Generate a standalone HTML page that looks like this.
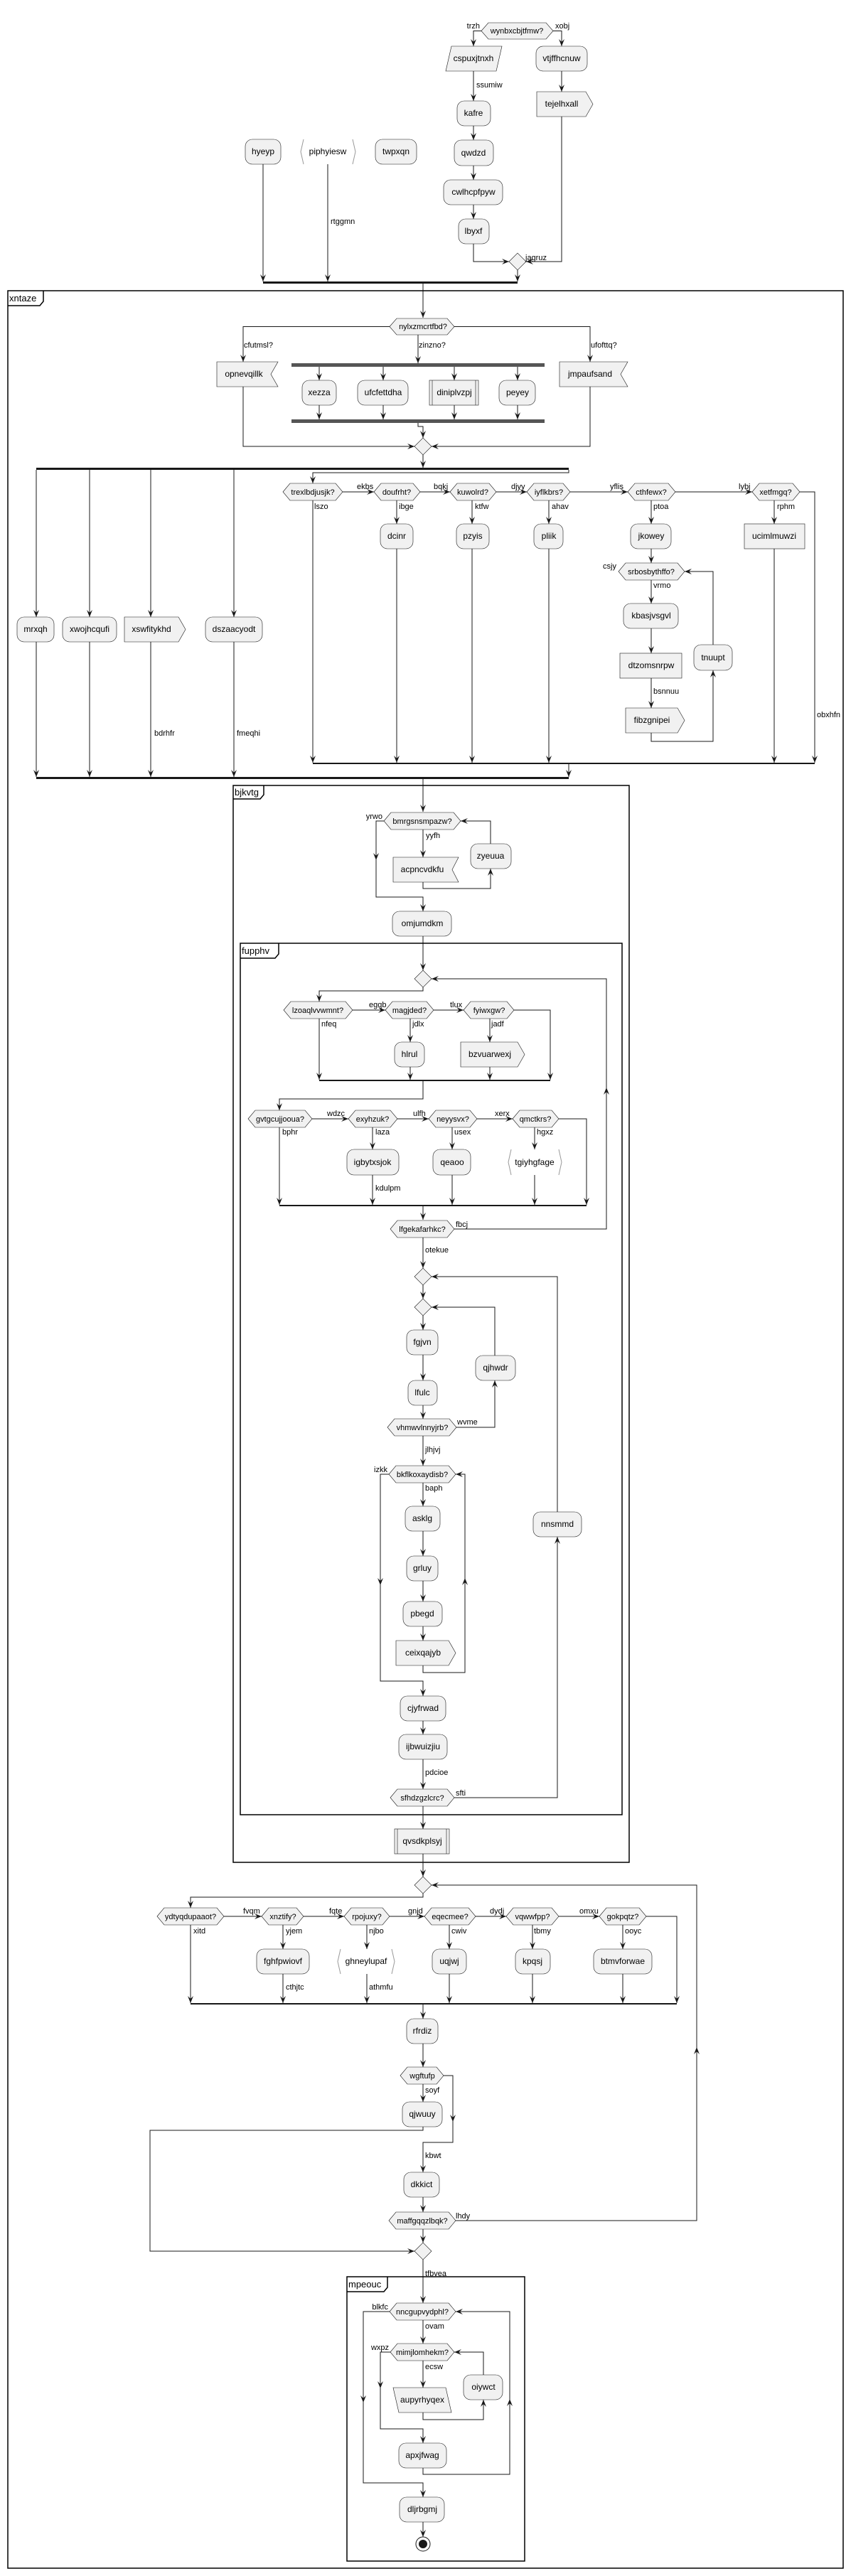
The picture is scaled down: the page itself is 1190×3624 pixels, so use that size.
<!DOCTYPE html>
<html><head><meta charset="utf-8"><style>
html,body{margin:0;padding:0;background:#fff}
svg{display:block}
.n{fill:#F1F1F1;stroke:#181818;stroke-width:0.6}
.w{fill:#fff;stroke:#181818;stroke-width:0.6}
.e{fill:none;stroke:#181818;stroke-width:1}
.a{fill:none;stroke:#181818;stroke-width:1;marker-end:url(#ar)}
.f{fill:none;stroke:#000;stroke-width:1.5}
.b{fill:#555;stroke:none}
.k{fill:#181818}
text{font-family:"Liberation Sans",sans-serif;fill:#000}
.t{font-size:12px;text-anchor:middle}
.h{font-size:11px;text-anchor:middle}
.l{font-size:11px}
.r{font-size:11px;text-anchor:end}
.g{font-size:13px}
</style></head><body>
<svg width="1190" height="3624" viewBox="0 0 1190 3624" xmlns="http://www.w3.org/2000/svg">
<defs><marker id="ar" markerWidth="10" markerHeight="10" refX="10" refY="4" orient="auto" markerUnits="userSpaceOnUse"><path d="M0,0 L10,4 L0,8 L4,4 Z" fill="#181818"/></marker></defs>

<!-- top section -->
<polygon class="n" points="677,43.5 687,32 768,32 778,43.5 768,55 687,55"/><text class="h" x="727" y="47">wynbxcbjtfmw?</text>
<text class="r" x="675" y="40">trzh</text><text class="l" x="781" y="40">xobj</text>
<path class="a" d="M677,43.5 H666 V65"/><path class="a" d="M778,43.5 H790 V65"/>
<polygon class="n" points="635,65 706,65 698,100 627,100"/><text class="t" x="666" y="86">cspuxjtnxh</text>
<rect class="n" x="754" y="65" width="72" height="35" rx="10"/><text class="t" x="790" y="86">vtjffhcnuw</text>
<path class="a" d="M666,100 V142"/><text class="l" x="670" y="123">ssumiw</text>
<path class="a" d="M790,100 V129"/>
<polygon class="n" points="755,129 824,129 834,146.5 824,164 755,164"/><text class="t" x="790" y="150">tejelhxall</text>
<rect class="n" x="643" y="142" width="47" height="35" rx="10"/><text class="t" x="666" y="163">kafre</text>
<path class="a" d="M666,177 V197"/>
<rect class="n" x="639" y="197" width="55" height="36" rx="10"/><text class="t" x="666" y="219">qwdzd</text>
<path class="a" d="M666,233 V253"/>
<rect class="n" x="624" y="253" width="83" height="35" rx="10"/><text class="t" x="666" y="274">cwlhcpfpyw</text>
<path class="a" d="M666,288 V308"/>
<rect class="n" x="645" y="308" width="43" height="35" rx="10"/><text class="t" x="666" y="329">lbyxf</text>
<path class="a" d="M666,343 V368 H716"/><path class="a" d="M790,164 V368 H740"/>
<polygon class="n" points="716,368 728,356 740,368 728,380"/><text class="l" x="739" y="366">jagruz</text>
<rect class="n" x="345" y="196" width="50" height="35" rx="10"/><text class="t" x="370" y="217">hyeyp</text>
<polyline class="e" points="427,196 423,213.5 427,231" style="stroke:#999"/><polyline class="e" points="496,196 500,213.5 496,231" style="stroke:#999"/><text class="t" x="461" y="217">piphyiesw</text>
<rect class="n" x="528" y="196" width="58" height="35" rx="10"/><text class="t" x="557" y="217">twpxqn</text>
<path class="a" d="M728,380 V396"/><path class="a" d="M370,231 V396"/><path class="a" d="M461,231 V396"/><text class="l" x="465" y="315">rtggmn</text>
<rect class="k" x="370" y="396" width="358" height="3"/>
<path class="a" d="M595,399 V447"/>

<!-- frame xntaze -->
<rect class="f" x="11" y="409" width="1175" height="3204"/>
<path class="f" d="M11,430 H56 L61,424 V409"/><text class="g" x="13" y="424">xntaze</text>

<polygon class="n" points="548,459.5 558,448 629,448 639,459.5 629,471 558,471"/><text class="h" x="595" y="463">nylxzmcrtfbd?</text>
<path class="a" d="M548,459.5 H342 V509"/><text class="l" x="343" y="489">cfutmsl?</text>
<path class="a" d="M588,471 V511"/><text class="l" x="589" y="489">zinzno?</text>
<path class="a" d="M639,459.5 H830 V509"/><text class="l" x="831" y="489">ufofttq?</text>
<polygon class="n" points="305,509 391,509 381,526.5 391,544 305,544"/><text class="t" x="343" y="530">opnevqillk</text>
<polygon class="n" points="787,509 883,509 873,526.5 883,544 787,544"/><text class="t" x="830" y="530">jmpaufsand</text>
<rect class="b" x="410" y="511" width="356" height="5"/>
<path class="a" d="M449,516 V535"/><path class="a" d="M539,516 V535"/><path class="a" d="M639,516 V535"/><path class="a" d="M728,516 V535"/>
<rect class="n" x="425" y="535" width="48" height="35" rx="10"/><text class="t" x="449" y="556">xezza</text>
<rect class="n" x="503" y="535" width="71" height="35" rx="10"/><text class="t" x="539" y="556">ufcfettdha</text>
<rect class="n" x="604" y="535" width="69" height="35"/><path class="e" d="M608,535 V570 M669,535 V570" style="stroke-width:0.6"/><text class="t" x="639" y="556">diniplvzpj</text>
<rect class="n" x="702" y="535" width="51" height="35" rx="10"/><text class="t" x="728" y="556">peyey</text>
<path class="a" d="M449,570 V590"/><path class="a" d="M539,570 V590"/><path class="a" d="M639,570 V590"/><path class="a" d="M728,570 V590"/>
<rect class="b" x="410" y="590" width="356" height="5"/>
<path class="a" d="M588,595 V600 H595 V616"/>
<path class="a" d="M342,544 V628 H583"/><path class="a" d="M830,544 V628 H607"/>
<polygon class="n" points="583,628 595,616 607,628 595,640"/>
<path class="a" d="M595,640 V658"/>
<rect class="k" x="51" y="658" width="749" height="3"/>
<path class="a" d="M51,661 V868"/><path class="a" d="M126,661 V868"/><path class="a" d="M212,661 V868"/><path class="a" d="M329,661 V868"/>
<path class="a" d="M800,661 V665 H440 V680"/>

<polygon class="n" points="398,692 408,680 472,680 482,692 472,704 408,704"/><text class="h" x="440" y="696">trexlbdjusjk?</text>
<path class="a" d="M482,692 H526"/><text class="l" x="502" y="688">ekbs</text>
<polygon class="n" points="526,692 536,680 581,680 591,692 581,704 536,704"/><text class="h" x="558" y="696">doufrht?</text>
<path class="a" d="M591,692 H633"/><text class="l" x="610" y="688">bqkj</text>
<polygon class="n" points="633,692 643,680 688,680 698,692 688,704 643,704"/><text class="h" x="665" y="696">kuwolrd?</text>
<path class="a" d="M698,692 H741"/><text class="l" x="719" y="688">djyy</text>
<polygon class="n" points="741,692 751,680 792,680 802,692 792,704 751,704"/><text class="h" x="772" y="696">iyflkbrs?</text>
<path class="a" d="M802,692 H883"/><text class="l" x="858" y="688">yflis</text>
<polygon class="n" points="883,692 893,680 940,680 950,692 940,704 893,704"/><text class="h" x="916" y="696">cthfewx?</text>
<path class="a" d="M950,692 H1058"/><text class="l" x="1039" y="688">lybj</text>
<polygon class="n" points="1058,692 1068,680 1115,680 1125,692 1115,704 1068,704"/><text class="h" x="1091" y="696">xetfmgq?</text>
<path class="a" d="M1125,692 H1146 V1073"/><text class="l" x="1149" y="1009">obxhfn</text>
<path class="a" d="M440,704 V1073"/><text class="l" x="442" y="716">lszo</text>
<path class="a" d="M558,704 V737"/><text class="l" x="561" y="716">ibge</text>
<path class="a" d="M664,704 V737"/><text class="l" x="668" y="716">ktfw</text>
<path class="a" d="M772,704 V737"/><text class="l" x="776" y="716">ahav</text>
<path class="a" d="M916,704 V737"/><text class="l" x="919" y="716">ptoa</text>
<path class="a" d="M1089,704 V737"/><text class="l" x="1093" y="716">rphm</text>
<rect class="n" x="535" y="737" width="46" height="35" rx="10"/><text class="t" x="558" y="758">dcinr</text>
<rect class="n" x="642" y="737" width="46" height="35" rx="10"/><text class="t" x="665" y="758">pzyis</text>
<rect class="n" x="751" y="737" width="41" height="35" rx="10"/><text class="t" x="772" y="758">pliik</text>
<rect class="n" x="887" y="737" width="57" height="35" rx="10"/><text class="t" x="916" y="758">jkowey</text>
<rect class="n" x="1047" y="737" width="85" height="35"/><text class="t" x="1089" y="758">ucimlmuwzi</text>
<path class="a" d="M558,772 V1073"/><path class="a" d="M664,772 V1073"/><path class="a" d="M772,772 V1073"/><path class="a" d="M1089,772 V1073"/>
<path class="a" d="M916,772 V792"/>
<polygon class="n" points="870,804 880,792 953,792 963,804 953,816 880,816"/><text class="h" x="916" y="808">srbosbythffo?</text>
<text class="r" x="867" y="800">csjy</text>
<path class="a" d="M916,816 V849"/><text class="l" x="919" y="827">vrmo</text>
<rect class="n" x="877" y="849" width="77" height="35" rx="10"/><text class="t" x="916" y="870">kbasjvsgvl</text>
<path class="a" d="M916,884 V919"/>
<rect class="n" x="872" y="919" width="87" height="35"/><text class="t" x="916" y="940">dtzomsnrpw</text>
<path class="a" d="M916,954 V996"/><text class="l" x="919" y="976">bsnnuu</text>
<polygon class="n" points="880,996 953,996 963,1013.5 953,1031 880,1031"/><text class="t" x="917" y="1017">fibzgnipei</text>
<path class="a" d="M916,1031 V1043 H1003 V943"/>
<rect class="n" x="976" y="907" width="54" height="36" rx="10"/><text class="t" x="1003" y="929">tnuupt</text>
<path class="a" d="M1003,907 V804 H963"/>
<rect class="k" x="440" y="1073" width="706" height="2"/>
<path class="a" d="M800,1075 V1093"/>
<rect class="n" x="24" y="868" width="52" height="35" rx="10"/><text class="t" x="50" y="889">mrxqh</text>
<rect class="n" x="88" y="868" width="76" height="35" rx="10"/><text class="t" x="126" y="889">xwojhcqufi</text>
<polygon class="n" points="175,868 251,868 261,885.5 251,903 175,903"/><text class="t" x="213" y="889">xswfitykhd</text>
<rect class="n" x="289" y="868" width="80" height="35" rx="10"/><text class="t" x="329" y="889">dszaacyodt</text>
<path class="a" d="M51,903 V1093"/><path class="a" d="M126,903 V1093"/><path class="a" d="M212,903 V1093"/><text class="l" x="217" y="1035">bdrhfr</text>
<path class="a" d="M329,903 V1093"/><text class="l" x="333" y="1035">fmeqhi</text>
<rect class="k" x="51" y="1093" width="749" height="3"/>
<path class="a" d="M595,1096 V1142"/>

<!-- bjkvtg -->
<rect class="f" x="328" y="1105" width="557" height="1515"/>
<path class="f" d="M328,1124 H366 L371,1118 V1105"/><text class="g" x="330" y="1119">bjkvtg</text>
<polygon class="n" points="540,1155 550,1143 638,1143 648,1155 638,1167 550,1167"/><text class="h" x="594" y="1159">bmrgsnsmpazw?</text>
<text class="r" x="538" y="1152">yrwo</text>
<path class="a" d="M595,1167 V1206"/><text class="l" x="599" y="1179">yyfh</text>
<polygon class="n" points="553,1206 645,1206 636,1223.5 645,1241 553,1241"/><text class="t" x="594" y="1227">acpncvdkfu</text>
<path class="a" d="M595,1241 V1250 H690 V1222"/>
<rect class="n" x="662" y="1187" width="57" height="35" rx="10"/><text class="t" x="690" y="1208">zyeuua</text>
<path class="a" d="M690,1187 V1155 H648"/>
<path class="a" d="M540,1155 H529 V1210"/><path class="a" d="M529,1205 V1262 H595 V1282"/>
<rect class="n" x="552" y="1282" width="83" height="35" rx="10"/><text class="t" x="594" y="1303">omjumdkm</text>
<path class="a" d="M595,1317 V1365"/>

<!-- fupphv -->
<rect class="f" x="338" y="1327" width="537" height="1226"/>
<path class="f" d="M338,1348 H387 L392,1342 V1327"/><text class="g" x="340" y="1342">fupphv</text>
<polygon class="n" points="583,1377 595,1365 607,1377 595,1389"/>
<path class="a" d="M595,1389 V1394 H449 V1409"/>
<polygon class="n" points="399,1421 409,1409 486,1409 496,1421 486,1433 409,1433"/><text class="h" x="447" y="1425">lzoaqlvvwmnt?</text>
<path class="a" d="M496,1421 H542"/><text class="l" x="519" y="1417">egqb</text>
<polygon class="n" points="542,1421 552,1409 600,1409 610,1421 600,1433 552,1433"/><text class="h" x="576" y="1425">magjded?</text>
<path class="a" d="M610,1421 H652"/><text class="l" x="633" y="1417">tlux</text>
<polygon class="n" points="652,1421 662,1409 713,1409 723,1421 713,1433 662,1433"/><text class="h" x="688" y="1425">fyiwxgw?</text>
<path class="a" d="M723,1421 H774 V1519"/>
<path class="a" d="M449,1433 V1519"/><text class="l" x="452" y="1444">nfeq</text>
<path class="a" d="M577,1433 V1466"/><text class="l" x="580" y="1444">jdlx</text>
<path class="a" d="M689,1433 V1466"/><text class="l" x="691" y="1444">jadf</text>
<rect class="n" x="555" y="1466" width="42" height="35" rx="10"/><text class="t" x="576" y="1487">hlrul</text>
<polygon class="n" points="648,1466 728,1466 738,1483.5 728,1501 648,1501"/><text class="t" x="689" y="1487">bzvuarwexj</text>
<path class="a" d="M577,1501 V1519"/><path class="a" d="M689,1501 V1519"/>
<rect class="k" x="449" y="1519" width="325" height="2"/>
<path class="a" d="M595,1521 V1546 H393 V1562"/>
<polygon class="n" points="349,1574 359,1562 429,1562 439,1574 429,1586 359,1586"/><text class="h" x="394" y="1578">gvtgcujjooua?</text>
<path class="a" d="M439,1574 H490"/><text class="l" x="460" y="1570">wdzc</text>
<polygon class="n" points="490,1574 500,1562 549,1562 559,1574 549,1586 500,1586"/><text class="h" x="524" y="1578">exyhzuk?</text>
<path class="a" d="M559,1574 H603"/><text class="l" x="581" y="1570">ulfh</text>
<polygon class="n" points="603,1574 613,1562 661,1562 671,1574 661,1586 613,1586"/><text class="h" x="637" y="1578">neyysvx?</text>
<path class="a" d="M671,1574 H721"/><text class="l" x="696" y="1570">xerx</text>
<polygon class="n" points="721,1574 731,1562 776,1562 786,1574 776,1586 731,1586"/><text class="h" x="753" y="1578">qmctkrs?</text>
<path class="a" d="M786,1574 H825 V1695"/>
<path class="a" d="M393,1586 V1695"/><text class="l" x="397" y="1596">bphr</text>
<path class="a" d="M524,1586 V1617"/><text class="l" x="528" y="1596">laza</text>
<path class="a" d="M636,1586 V1617"/><text class="l" x="639" y="1596">usex</text>
<path class="a" d="M752,1586 V1617"/><text class="l" x="755" y="1596">hgxz</text>
<rect class="n" x="488" y="1617" width="73" height="36" rx="10"/><text class="t" x="524" y="1639">igbytxsjok</text>
<rect class="n" x="609" y="1617" width="53" height="36" rx="10"/><text class="t" x="636" y="1639">qeaoo</text>
<polyline class="e" points="719,1617 715,1635 719,1653" style="stroke:#999"/><polyline class="e" points="786,1617 790,1635 786,1653" style="stroke:#999"/><text class="t" x="752" y="1639">tgiyhgfage</text>
<path class="a" d="M524,1653 V1695"/><text class="l" x="528" y="1675">kdulpm</text>
<path class="a" d="M636,1653 V1695"/><path class="a" d="M752,1653 V1695"/>
<rect class="k" x="393" y="1695" width="432" height="2"/>
<path class="a" d="M595,1697 V1716"/>
<polygon class="n" points="549,1729 559,1717 629,1717 639,1729 629,1741 559,1741"/><text class="h" x="594" y="1733">lfgekafarhkc?</text>
<text class="l" x="641" y="1726">fbcj</text>
<path class="a" d="M639,1729 H853 V1530"/><path class="a" d="M853,1535 V1377 H607"/>
<path class="a" d="M595,1741 V1784"/><text class="l" x="598" y="1762">otekue</text>
<polygon class="n" points="583,1796 595,1784 607,1796 595,1808"/>
<path class="a" d="M595,1808 V1827"/>
<polygon class="n" points="583,1839 595,1827 607,1839 595,1851"/>
<path class="a" d="M595,1851 V1871"/>
<rect class="n" x="572" y="1871" width="44" height="35" rx="10"/><text class="t" x="594" y="1892">fgjvn</text>
<path class="a" d="M595,1906 V1942"/>
<rect class="n" x="574" y="1942" width="41" height="35" rx="10"/><text class="t" x="594" y="1963">lfulc</text>
<path class="a" d="M595,1977 V1996"/>
<polygon class="n" points="545,2008 555,1996 632,1996 642,2008 632,2020 555,2020"/><text class="h" x="594" y="2012">vhmwvlnnyjrb?</text>
<text class="l" x="643" y="2004">wvme</text>
<path class="a" d="M642,2008 H696 V1942"/>
<rect class="n" x="669" y="1907" width="56" height="35" rx="10"/><text class="t" x="697" y="1928">qjhwdr</text>
<path class="a" d="M696,1907 V1839 H607"/>
<path class="a" d="M595,2020 V2062"/><text class="l" x="598" y="2043">jlhjvj</text>
<polygon class="n" points="547,2074 557,2062 631,2062 641,2074 631,2086 557,2086"/><text class="h" x="594" y="2078">bkflkoxaydisb?</text>
<text class="r" x="545" y="2071">izkk</text>
<path class="a" d="M547,2074 H535 V2230"/><path class="a" d="M535,2225 V2365 H595 V2386"/>
<path class="a" d="M595,2086 V2119"/><text class="l" x="598" y="2097">baph</text>
<rect class="n" x="570" y="2119" width="49" height="35" rx="10"/><text class="t" x="594" y="2140">asklg</text>
<path class="a" d="M595,2154 V2189"/>
<rect class="n" x="572" y="2189" width="44" height="35" rx="10"/><text class="t" x="594" y="2210">grluy</text>
<path class="a" d="M595,2224 V2253"/>
<rect class="n" x="567" y="2253" width="55" height="35" rx="10"/><text class="t" x="594" y="2274">pbegd</text>
<path class="a" d="M595,2288 V2308"/>
<polygon class="n" points="557,2308 631,2308 641,2325.5 631,2343 557,2343"/><text class="t" x="595" y="2329">ceixqajyb</text>
<path class="a" d="M595,2343 V2353 H654 V2220"/><path class="a" d="M654,2225 V2074 H641"/>
<rect class="n" x="750" y="2127" width="68" height="35" rx="10"/><text class="t" x="784" y="2148">nnsmmd</text>
<path class="a" d="M784,2127 V1796 H607"/>
<rect class="n" x="563" y="2386" width="64" height="35" rx="10"/><text class="t" x="595" y="2407">cjyfrwad</text>
<path class="a" d="M595,2421 V2440"/>
<rect class="n" x="561" y="2440" width="68" height="35" rx="10"/><text class="t" x="595" y="2461">ijbwuizjiu</text>
<path class="a" d="M595,2475 V2517"/><text class="l" x="598" y="2497">pdcioe</text>
<polygon class="n" points="549,2529 559,2517 629,2517 639,2529 629,2541 559,2541"/><text class="h" x="594" y="2533">sfhdzgzlcrc?</text>
<text class="l" x="641" y="2526">sfti</text>
<path class="a" d="M639,2529 H784 V2162"/>
<path class="a" d="M595,2541 V2573"/>
<rect class="n" x="555" y="2573" width="77" height="35"/><path class="e" d="M559,2573 V2608 M628,2573 V2608" style="stroke-width:0.6"/><text class="t" x="594" y="2594">qvsdkplsyj</text>
<path class="a" d="M595,2608 V2640"/>
<polygon class="n" points="583,2652 595,2640 607,2652 595,2664"/>
<path class="a" d="M595,2664 V2669 H268 V2684"/>
<polygon class="n" points="221,2696 231,2684 305,2684 315,2696 305,2708 231,2708"/><text class="h" x="268" y="2700">ydtyqdupaaot?</text>
<path class="a" d="M315,2696 H368"/><text class="l" x="342" y="2692">fvqm</text>
<polygon class="n" points="368,2696 378,2684 417,2684 427,2696 417,2708 378,2708"/><text class="h" x="398" y="2700">xnztify?</text>
<path class="a" d="M427,2696 H484"/><text class="l" x="463" y="2692">fqte</text>
<polygon class="n" points="484,2696 494,2684 538,2684 548,2696 538,2708 494,2708"/><text class="h" x="516" y="2700">rpojuxy?</text>
<path class="a" d="M548,2696 H597"/><text class="l" x="574" y="2692">gnjd</text>
<polygon class="n" points="597,2696 607,2684 659,2684 669,2696 659,2708 607,2708"/><text class="h" x="633" y="2700">eqecmee?</text>
<path class="a" d="M669,2696 H712"/><text class="l" x="689" y="2692">dydj</text>
<polygon class="n" points="712,2696 722,2684 776,2684 786,2696 776,2708 722,2708"/><text class="h" x="749" y="2700">vqwwfpp?</text>
<path class="a" d="M786,2696 H843"/><text class="l" x="815" y="2692">omxu</text>
<polygon class="n" points="843,2696 853,2684 899,2684 909,2696 899,2708 853,2708"/><text class="h" x="876" y="2700">gokpqtz?</text>
<path class="a" d="M909,2696 H952 V2818"/>
<path class="a" d="M268,2708 V2818"/><text class="l" x="272" y="2720">xitd</text>
<path class="a" d="M398,2708 V2742"/><text class="l" x="402" y="2720">yjem</text>
<path class="a" d="M516,2708 V2742"/><text class="l" x="519" y="2720">njbo</text>
<path class="a" d="M632,2708 V2742"/><text class="l" x="635" y="2720">cwiv</text>
<path class="a" d="M749,2708 V2742"/><text class="l" x="751" y="2720">tbmy</text>
<path class="a" d="M876,2708 V2742"/><text class="l" x="879" y="2720">ooyc</text>
<rect class="n" x="361" y="2742" width="74" height="35" rx="10"/><text class="t" x="398" y="2763">fghfpwiovf</text>
<polyline class="e" points="479,2742 475,2759.5 479,2777" style="stroke:#999"/><polyline class="e" points="551,2742 555,2759.5 551,2777" style="stroke:#999"/><text class="t" x="515" y="2763">ghneylupaf</text>
<rect class="n" x="608" y="2742" width="48" height="35" rx="10"/><text class="t" x="632" y="2763">uqjwj</text>
<rect class="n" x="725" y="2742" width="49" height="35" rx="10"/><text class="t" x="749" y="2763">kpqsj</text>
<rect class="n" x="835" y="2742" width="82" height="35" rx="10"/><text class="t" x="876" y="2763">btmvforwae</text>
<path class="a" d="M398,2777 V2818"/><text class="l" x="402" y="2799">cthjtc</text>
<path class="a" d="M516,2777 V2818"/><text class="l" x="519" y="2799">athmfu</text>
<path class="a" d="M632,2777 V2818"/><path class="a" d="M749,2777 V2818"/><path class="a" d="M876,2777 V2818"/>
<rect class="k" x="268" y="2818" width="684" height="2"/>
<path class="a" d="M595,2820 V2840"/>
<rect class="n" x="572" y="2840" width="44" height="35" rx="10"/><text class="t" x="594" y="2861">rfrdiz</text>
<path class="a" d="M595,2875 V2908"/>
<polygon class="n" points="563,2920 573,2908 614,2908 624,2920 614,2932 573,2932"/><text class="h" x="594" y="2924">wgftufp</text>
<path class="a" d="M624,2920 H637 V2985"/><path class="a" d="M637,2980 V3014 H595 V3056"/><text class="l" x="598" y="3036">kbwt</text>
<path class="a" d="M595,2932 V2957"/><text class="l" x="598" y="2944">soyf</text>
<rect class="n" x="566" y="2957" width="56" height="35" rx="10"/><text class="t" x="594" y="2978">qjwuuy</text>
<path class="a" d="M595,2992 V2997 H211 V3167 H583"/>
<rect class="n" x="568" y="3056" width="50" height="35" rx="10"/><text class="t" x="593" y="3077">dkkict</text>
<path class="a" d="M595,3091 V3112"/>
<polygon class="n" points="547,3124 557,3112 631,3112 641,3124 631,3136 557,3136"/><text class="h" x="594" y="3128">maffgqqzlbqk?</text>
<text class="l" x="641" y="3121">lhdy</text>
<path class="a" d="M641,3124 H980 V2880"/><path class="a" d="M980,2885 V2652 H607"/>
<path class="a" d="M595,3136 V3155"/>
<polygon class="n" points="583,3167 595,3155 607,3167 595,3179"/>
<path class="a" d="M595,3179 V3240"/><text class="l" x="598" y="3202">tfbvea</text>

<!-- mpeouc -->
<rect class="f" x="488" y="3203" width="250" height="400"/>
<path class="f" d="M488,3224 H540 L545,3218 V3203"/><text class="g" x="490" y="3218">mpeouc</text>
<polygon class="n" points="548,3252 558,3240 631,3240 641,3252 631,3264 558,3264"/><text class="h" x="594" y="3256">nncgupvydphl?</text>
<text class="r" x="546" y="3249">blkfc</text>
<path class="a" d="M548,3252 H511 V3380"/><path class="a" d="M511,3375 V3493 H595 V3513"/>
<path class="a" d="M595,3264 V3297"/><text class="l" x="598" y="3276">ovam</text>
<polygon class="n" points="549,3309 559,3297 629,3297 639,3309 629,3321 559,3321"/><text class="h" x="594" y="3313">mimjlomhekm?</text>
<text class="r" x="547" y="3306">wxpz</text>
<path class="a" d="M549,3309 H535 V3360"/><path class="a" d="M535,3355 V3417 H595 V3437"/>
<path class="a" d="M595,3321 V3359"/><text class="l" x="598" y="3333">ecsw</text>
<polygon class="n" points="553,3359 627,3359 635,3394 561,3394"/><text class="t" x="594" y="3380">aupyrhyqex</text>
<path class="a" d="M595,3394 V3404 H680 V3376"/>
<rect class="n" x="652" y="3341" width="55" height="35" rx="10"/><text class="t" x="680" y="3362">oiywct</text>
<path class="a" d="M680,3341 V3309 H639"/>
<rect class="n" x="561" y="3437" width="67" height="35" rx="10"/><text class="t" x="594" y="3458">apxjfwag</text>
<path class="a" d="M595,3472 V3481 H717 V3375"/><path class="a" d="M717,3380 V3252 H641"/>
<rect class="n" x="562" y="3513" width="63" height="35" rx="10"/><text class="t" x="594" y="3534">dljrbgmj</text>
<path class="a" d="M595,3548 V3569"/>
<circle cx="595" cy="3579" r="10" fill="#fff" stroke="#181818" stroke-width="1"/>
<circle cx="595" cy="3579" r="6" fill="#181818"/>
</svg>
</body></html>
